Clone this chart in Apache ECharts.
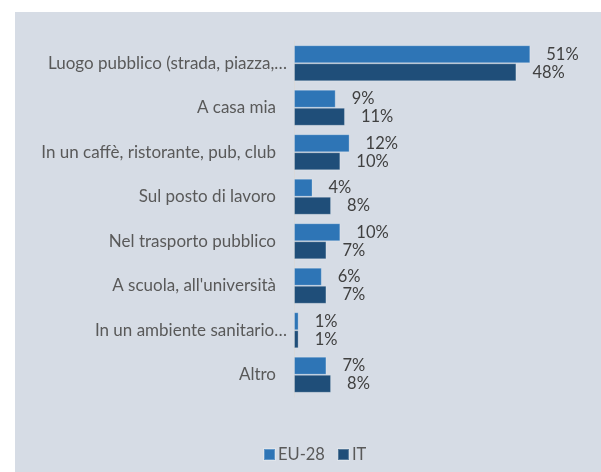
<!DOCTYPE html>
<html>
<head>
<meta charset="utf-8">
<script src="https://cdn.jsdelivr.net/npm/echarts@6/dist/echarts.min.js"></script>
<style>
html,body{margin:0;padding:0;background:#ffffff;}
#chart{width:601px;height:472px;}
</style>
</head>
<body>
<div id="chart"></div>
<script>
var categories = [
  'Luogo pubblico (strada, piazza,…',
  'A casa mia',
  'In un caffè, ristorante, pub, club',
  'Sul posto di lavoro',
  'Nel trasporto pubblico',
  "A scuola, all'università",
  'In un ambiente sanitario…',
  'Altro'
];
var truncated = [true, false, false, false, false, false, true, false];
var seriesNames = ['EU-28', 'IT'];
var euValues = [51, 9, 12, 4, 10, 6, 1, 7];
var itValues = [48, 11, 10, 8, 7, 7, 1, 8];

var chart = echarts.init(document.getElementById('chart'), null, {renderer: 'canvas'});
var FONT = 'Lato';
var TXT = '#595959';

function labelFmt(p) { return p.value + '%'; }

chart.setOption({
  animation: false,
  backgroundColor: '#ffffff',
  textStyle: {fontFamily: FONT},
  graphic: [{
    type: 'rect',
    left: 15, top: 12,
    shape: {width: 586, height: 460},
    style: {fill: '#d6dce5'},
    z: -10
  }],
  grid: {left: 294, top: 41, width: 278, height: 356, containLabel: false},
  xAxis: {
    type: 'value', min: 0, max: 60,
    show: false
  },
  yAxis: {
    type: 'category',
    inverse: true,
    data: categories,
    axisLine: {show: true, lineStyle: {color: '#d9d9d9', width: 1}},
    axisTick: {show: false},
    axisLabel: {
      margin: 7,
      color: TXT,
      fontFamily: FONT,
      fontSize: 17,
      formatter: function (v, i) {
        return truncated[i] ? v : v + '{s|}';
      },
      rich: {s: {width: 11}}
    }
  },
  legend: {
    data: seriesNames,
    left: 263,
    top: 446,
    padding: 0,
    icon: 'rect',
    itemWidth: 11,
    itemHeight: 11,
    itemGap: 12,
    textStyle: {color: TXT, fontFamily: FONT, fontSize: 16.5, padding: [0, 0, 0, -2]}
  },
  series: [
    {
      name: seriesNames[0], type: 'bar', data: euValues,
      barGap: '0%', barCategoryGap: '19%',
      itemStyle: {color: '#2e75b6', borderColor: 'rgba(255,255,255,0.25)', borderWidth: 1},
      label: {show: true, position: 'right', distance: 16, formatter: labelFmt,
        color: '#404040', fontFamily: FONT, fontSize: 16.5}
    },
    {
      name: seriesNames[1], type: 'bar', data: itValues,
      barGap: '0%', barCategoryGap: '19%',
      itemStyle: {color: '#1f4e79', borderColor: 'rgba(255,255,255,0.25)', borderWidth: 1},
      label: {show: true, position: 'right', distance: 16, formatter: labelFmt,
        color: '#404040', fontFamily: FONT, fontSize: 16.5}
    }
  ]
});
</script>
</body>
</html>
